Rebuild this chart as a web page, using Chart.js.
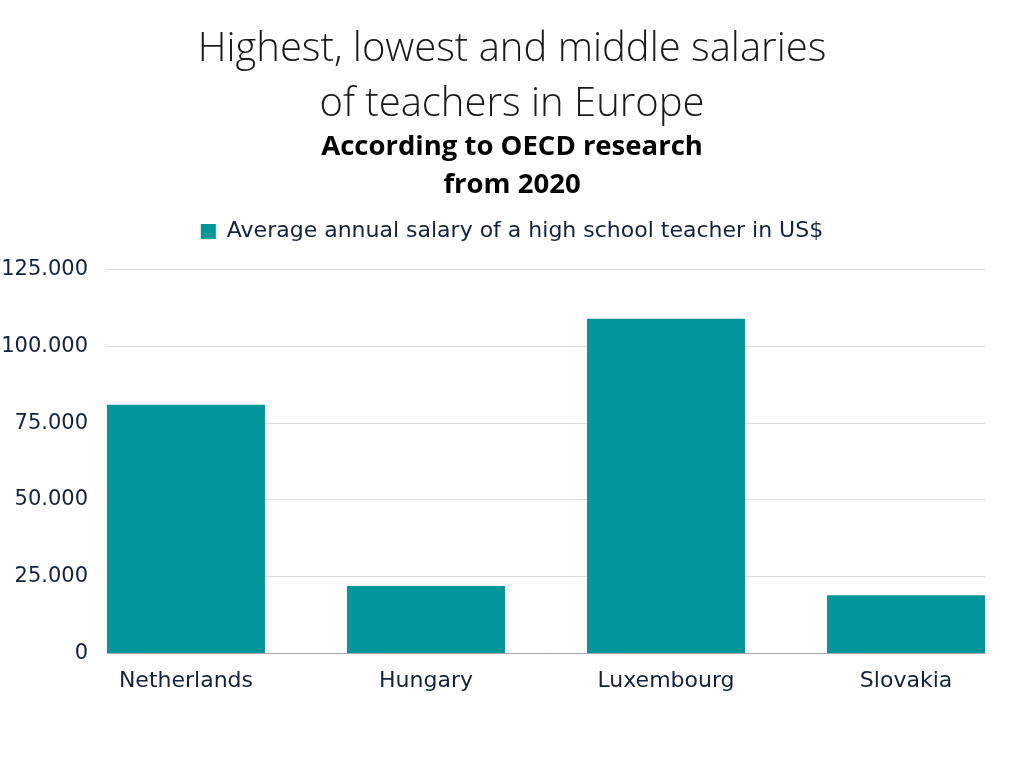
<!DOCTYPE html>
<html>
<head>
<meta charset="utf-8">
<script src="https://cdn.jsdelivr.net/npm/chart.js@4.4.1/dist/chart.umd.min.js"></script>
<style>
html,body{margin:0;padding:0;background:#fff;overflow:hidden;}
#wrap{width:1024px;height:768px;position:relative;}
canvas{display:block;}
</style>
</head>
<body>
<div id="wrap"><canvas id="c" width="1024" height="768"></canvas></div>
<script>
const categories = ["Netherlands", "Hungary", "Luxembourg", "Slovakia"];
const salaries = [81000, 22000, 109000, 19000];
const seriesLabel = "Average annual salary of a high school teacher in US$";
const titleLines = ["Highest, lowest and middle salaries", "of teachers in Europe"];
const subtitleLines = ["According to OECD research", "from 2020"];
const yTicks = [0, 25000, 50000, 75000, 100000, 125000];

const catPct = 0.658;
const inkColor = "#12233a";

new Chart(document.getElementById('c'), {
  type: 'bar',
  data: {
    datasets: [{
      label: seriesLabel,
      data: salaries.map((v, i) => ({x: i, y: v})),
      backgroundColor: '#00969a',
      borderWidth: 0,
      barPercentage: 1,
      categoryPercentage: catPct
    }]
  },
  options: {
    responsive: false,
    animation: false,
    layout: {padding: {left: 0, right: 0, top: 0, bottom: 68}},
    plugins: {
      title: {
        display: true,
        text: titleLines,
        color: '#1a1a1a',
        font: {family: "'Open Sans', sans-serif", size: 40, weight: 300, lineHeight: '55px'},
        padding: {top: 22, bottom: 0}
      },
      subtitle: {
        display: true,
        text: subtitleLines,
        color: '#000',
        font: {family: "'Open Sans', sans-serif", size: 27.5, weight: 'bold', lineHeight: '38px'},
        padding: {top: -4, bottom: -12}
      },
      legend: {
        display: true,
        labels: {
          color: inkColor,
          font: {family: "'DejaVu Sans', sans-serif", size: 22},
          boxWidth: 15,
          boxHeight: 15,
          padding: 28.5
        }
      },
      tooltip: {enabled: false}
    },
    scales: {
      x: {
        type: 'linear',
        offset: false,
        min: -catPct / 2,
        max: categories.length - 1 + catPct / 2,
        afterBuildTicks: (axis) => { axis.ticks = categories.map((c, i) => ({value: i})); },
        ticks: {
          color: inkColor,
          font: {family: "'DejaVu Sans', sans-serif", size: 22},
          padding: 6,
          autoSkip: false,
          maxRotation: 0,
          callback: (v) => categories[v]
        },
        grid: {display: false},
        border: {display: true, color: '#a8a8a8', width: 1}
      },
      xTop: {
        type: 'linear',
        axis: 'x',
        position: 'top',
        display: true,
        grid: {display: false},
        border: {display: false},
        ticks: {display: false},
        afterFit: (s) => { s.height = 17; }
      },
      y: {
        min: yTicks[0],
        max: yTicks[yTicks.length - 1],
        afterBuildTicks: (axis) => { axis.ticks = yTicks.map(v => ({value: v})); },
        afterFit: (s) => { s.width = 107; },
        ticks: {
          color: inkColor,
          font: {family: "'DejaVu Sans', sans-serif", size: 21},
          padding: 19,
          callback: (v) => v === 0 ? '0' : v.toLocaleString('de-DE')
        },
        grid: {color: '#dcdcdc', drawTicks: false, lineWidth: 1},
        border: {display: false}
      },
      yRight: {
        position: 'right',
        display: true,
        grid: {display: false},
        border: {display: false},
        ticks: {display: false},
        afterFit: (s) => { s.width = 39; }
      }
    }
  }
});
</script>
</body>
</html>
